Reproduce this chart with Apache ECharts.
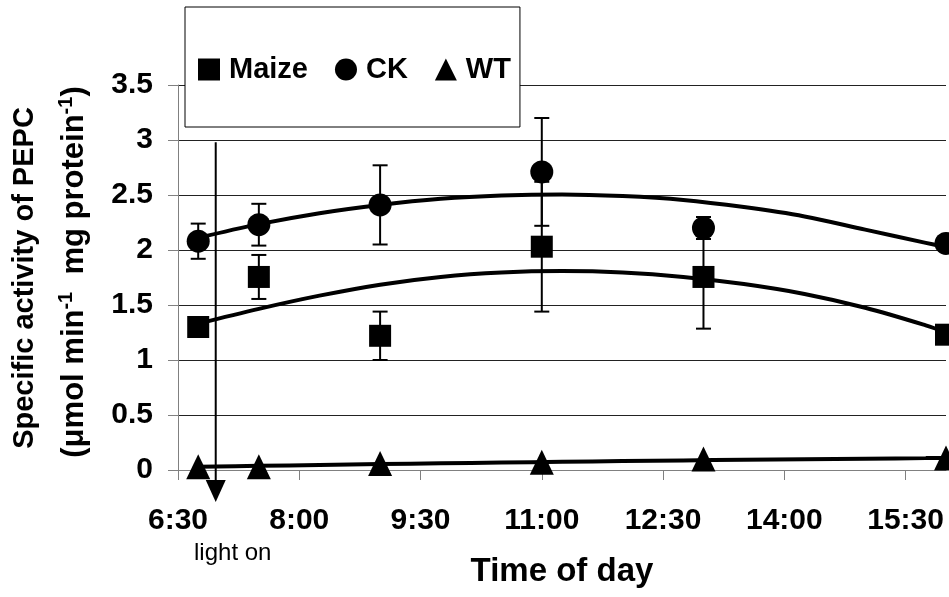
<!DOCTYPE html>
<html><head><meta charset="utf-8">
<script src="https://cdn.jsdelivr.net/npm/echarts@6/dist/echarts.min.js"></script>
<style>html,body{margin:0;padding:0;background:#fff}#c{width:949px;height:597px}</style>
</head><body><div id="c"></div>
<script>
// ---- data ----
const sampleTimes = ['6:45', '7:30', '9:00', '11:00', '13:00', '16:00'];
const maizeValues = [1.30, 1.755, 1.22, 2.03, 1.755, 1.23];
const maizeErrors = [0, 0.20, 0.22, 0.59, 0.47, 0];
const ckValues = [2.08, 2.23, 2.41, 2.71, 2.20, 2.06];
const ckErrors = [0.16, 0.19, 0.36, 0.49, 0.10, 0];
const wtValues = [0.03, 0.03, 0.06, 0.07, 0.10, 0.11];

// fitted trend curves
const trendTimes = ['6:45', '7:30', '8:15', '9:00', '9:45', '10:30', '11:15', '12:00', '12:45', '13:30', '14:15', '15:00', '15:45', '16:00'];
const maizeTrend = [1.33, 1.465, 1.585, 1.685, 1.755, 1.795, 1.808, 1.795, 1.755, 1.69, 1.60, 1.475, 1.315, 1.25];
const ckTrend = [2.11, 2.235, 2.335, 2.41, 2.465, 2.495, 2.505, 2.49, 2.455, 2.39, 2.305, 2.185, 2.065, 2.025];
const wtTrend = [0.03, 0.038, 0.046, 0.054, 0.061, 0.068, 0.075, 0.081, 0.087, 0.093, 0.098, 0.103, 0.108, 0.11];

const xTickLabels = ['6:30', '8:00', '9:30', '11:00', '12:30', '14:00', '15:30'];
const axisStart = '6:30';
const axisEnd = '16:00';
const yMin = 0, yMax = 3.5, yStep = 0.5;
const seriesNames = ['Maize', 'CK', 'WT'];
const lightOnTime = '6:58';
const lightOnTop = 2.98;
const lightOnBottom = -0.29;

// ---- helpers ----
const FONT = '"Liberation Sans", Arial, Helvetica, sans-serif';
function hm(t) { const p = t.split(':'); return (+p[0]) * 60 + (+p[1]); }
const origin = hm(axisStart);
function toX(t) { return hm(t) - origin; }
const xTickValues = xTickLabels.map(toX);

function pts(times, vals) { return times.map((t, i) => [toX(t), vals[i]]); }
function errs(times, vals, e) {
  const out = [];
  times.forEach((t, i) => { if (e[i] > 0) out.push([toX(t), vals[i] - e[i], vals[i] + e[i]]); });
  return out;
}

function errRender(params, api) {
  const x = api.value(0), lo = api.value(1), hi = api.value(2);
  const a = api.coord([x, hi]), b = api.coord([x, lo]);
  const w = 7.5;
  const st = { stroke: '#000', lineWidth: 2 };
  return {
    type: 'group', children: [
      { type: 'line', shape: { x1: a[0], y1: a[1], x2: b[0], y2: b[1] }, style: st },
      { type: 'line', shape: { x1: a[0] - w, y1: a[1], x2: a[0] + w, y2: a[1] }, style: st },
      { type: 'line', shape: { x1: b[0] - w, y1: b[1], x2: b[0] + w, y2: b[1] }, style: st }
    ]
  };
}

const chart = echarts.init(document.getElementById('c'), null, { renderer: 'canvas' });
const markStyle = { color: '#000', opacity: 1 };

const option = {
  animation: false,
  backgroundColor: '#fff',
  textStyle: { fontFamily: FONT },
  grid: { left: 178, right: 3, top: 85, bottom: 127, outerBoundsMode: 'none', containLabel: false },
  legend: {
    left: 185, top: 7,
    padding: [48, 9, 43, 13],
    itemWidth: 22, itemHeight: 22, itemGap: 27,
    backgroundColor: '#fff', borderColor: '#000', borderWidth: 1,
    selectedMode: false,
    itemStyle: { color: '#000', opacity: 1 },
    textStyle: { fontFamily: FONT, fontSize: 29, fontWeight: 'bold', color: '#000', padding: [0, 0, 0, 4] },
    data: [
      { name: seriesNames[0], icon: 'rect' },
      { name: seriesNames[1], icon: 'circle' },
      { name: seriesNames[2], icon: 'triangle' }
    ]
  },
  xAxis: {
    type: 'value', min: toX(axisStart), max: toX(axisEnd), interval: 90,
    axisLine: { show: true, lineStyle: { color: '#808080', width: 1 } },
    axisTick: { show: true, length: 10, customValues: xTickValues, lineStyle: { color: '#808080' } },
    axisLabel: {
      customValues: xTickValues,
      formatter: v => { const i = xTickValues.indexOf(v); return i >= 0 ? xTickLabels[i] : ''; },
      margin: 36, fontSize: 30, fontWeight: 'bold', color: '#000', fontFamily: FONT
    },
    splitLine: { show: false },
    name: 'Time of day', nameLocation: 'middle', nameGap: 85,
    nameTextStyle: { fontSize: 33, fontWeight: 'bold', color: '#000', fontFamily: FONT }
  },
  yAxis: {
    type: 'value', min: yMin, max: yMax, interval: yStep,
    axisLine: { show: true, lineStyle: { color: '#808080', width: 1 } },
    axisTick: { show: true, length: 10, lineStyle: { color: '#808080' } },
    axisLabel: { margin: 25, fontSize: 30, fontWeight: 'bold', color: '#000', fontFamily: FONT },
    splitLine: { show: true, lineStyle: { color: '#222', width: 1 } }
  },
  series: [
    { name: seriesNames[0], type: 'scatter', symbol: 'rect', symbolSize: 22, itemStyle: markStyle, data: pts(sampleTimes, maizeValues), z: 5 },
    { name: seriesNames[1], type: 'scatter', symbol: 'circle', symbolSize: 23, itemStyle: markStyle, data: pts(sampleTimes, ckValues), z: 5 },
    { name: seriesNames[2], type: 'scatter', symbol: 'triangle', symbolSize: [24, 25], itemStyle: markStyle, data: pts(sampleTimes, wtValues), z: 5 },
    { name: 'Maize trend', type: 'line', smooth: 0.35, symbol: 'none', lineStyle: { color: '#000', width: 4 }, data: pts(trendTimes, maizeTrend), z: 4 },
    { name: 'CK trend', type: 'line', smooth: 0.35, symbol: 'none', lineStyle: { color: '#000', width: 4 }, data: pts(trendTimes, ckTrend), z: 4 },
    { name: 'WT trend', type: 'line', smooth: 0.35, symbol: 'none', lineStyle: { color: '#000', width: 4 }, data: pts(trendTimes, wtTrend), z: 4 },
    { name: 'Maize err', type: 'custom', renderItem: errRender, encode: { x: 0, y: [1, 2] }, data: errs(sampleTimes, maizeValues, maizeErrors), z: 3 },
    { name: 'CK err', type: 'custom', renderItem: errRender, encode: { x: 0, y: [1, 2] }, data: errs(sampleTimes, ckValues, ckErrors), z: 3 }
  ]
};
chart.setOption(option);

// annotations: y-axis title, light-on arrow
const pTop = chart.convertToPixel({ gridIndex: 0 }, [toX(lightOnTime), lightOnTop]);
const pBot = chart.convertToPixel({ gridIndex: 0 }, [toX(lightOnTime), lightOnBottom]);
const headH = 22, headW = 10;
chart.setOption({
  graphic: [
    {
      type: 'text', x: 25, y: 278, rotation: Math.PI / 2,
      style: { text: 'Specific activity of PEPC', font: 'bold 29px ' + FONT, fill: '#000', align: 'center', verticalAlign: 'middle' }
    },
    {
      type: 'text', x: 74, y: 272, rotation: Math.PI / 2,
      style: {
        text: '{a|(\u03bcmol min}{s|-1}{a|  mg protein}{s|-1}{a|)}',
        align: 'center', verticalAlign: 'middle', fill: '#000',
        rich: {
          a: { fontFamily: FONT, fontWeight: 'bold', fontSize: 31, lineHeight: 36, fill: '#000' },
          s: { fontFamily: FONT, fontWeight: 'bold', fontSize: 20, verticalAlign: 'top', fill: '#000' }
        }
      }
    },
    {
      type: 'line', shape: { x1: pTop[0], y1: pTop[1], x2: pBot[0], y2: pBot[1] - headH }, style: { stroke: '#000', lineWidth: 2 }, z: 10
    },
    {
      type: 'polygon', shape: { points: [[pBot[0] - headW, pBot[1] - headH], [pBot[0] + headW, pBot[1] - headH], [pBot[0], pBot[1]]] }, style: { fill: '#000' }, z: 10
    },
    {
      type: 'text', x: pBot[0] + 17, y: 553,
      style: { text: 'light on', font: '24px ' + FONT, fill: '#000', align: 'center', verticalAlign: 'middle' }
    }
  ]
});
</script></body></html>
